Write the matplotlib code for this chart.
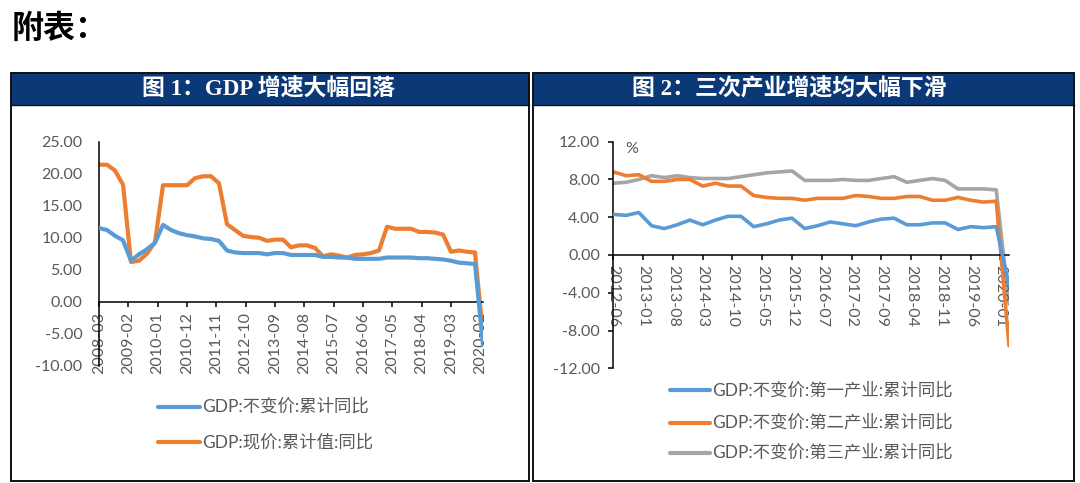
import matplotlib
matplotlib.use("Agg")
import matplotlib.pyplot as plt
from matplotlib.patches import Rectangle
from matplotlib.lines import Line2D
import pandas as pd

plt.rcParams['font.family'] = ['Lato', 'Noto Sans CJK SC', 'DejaVu Sans']

# ---------------- data ----------------
page_title = "附表："
title1 = "图 1：GDP 增速大幅回落"
title2 = "图 2：三次产业增速均大幅下滑"

# Chart 1: quarterly, 2008Q1 .. 2020Q1
dates1 = [d.strftime('%Y-%m') for d in pd.date_range('2008-03-31', '2020-03-31', freq='QE')]
gdp_real = [11.5, 11.2, 10.3, 9.6,
            6.4, 7.4, 8.2, 9.2,
            12.0, 11.2, 10.7, 10.4,
            10.2, 9.9, 9.8, 9.5,
            8.0, 7.7, 7.6, 7.6,
            7.6, 7.4, 7.6, 7.6,
            7.3, 7.3, 7.3, 7.3,
            7.0, 7.0, 6.9, 6.9,
            6.7, 6.7, 6.7, 6.7,
            6.9, 6.9, 6.9, 6.9,
            6.8, 6.8, 6.7, 6.6,
            6.4, 6.1, 6.0, 5.9,
            -6.8]
gdp_nominal = [21.4, 21.4, 20.5, 18.3,
               6.2, 6.4, 7.5, 9.3,
               18.2, 18.2, 18.2, 18.2,
               19.3, 19.6, 19.6, 18.5,
               12.1, 11.2, 10.3, 10.1,
               10.0, 9.5, 9.7, 9.7,
               8.5, 8.8, 8.8, 8.4,
               7.1, 7.4, 7.2, 6.9,
               7.3, 7.4, 7.6, 8.0,
               11.7, 11.4, 11.4, 11.4,
               10.9, 10.9, 10.8, 10.5,
               7.8, 8.0, 7.8, 7.7,
               -5.3]
labels1 = ["GDP:不变价:累计同比", "GDP:现价:累计值:同比"]
xticks1 = ["2008-03", "2009-02", "2010-01", "2010-12", "2011-11", "2012-10", "2013-09",
           "2014-08", "2015-07", "2016-06", "2017-05", "2018-04", "2019-03", "2020-02"]
yticks1 = [-10, -5, 0, 5, 10, 15, 20, 25]

# Chart 2: quarterly, 2012Q2 .. 2020Q1
dates2 = [d.strftime('%Y-%m') for d in pd.date_range('2012-06-30', '2020-03-31', freq='QE')]
primary = [4.3, 4.2, 4.5, 3.1, 2.8, 3.2, 3.7, 3.2, 3.7, 4.1, 4.1, 3.0, 3.3, 3.7, 3.9, 2.8,
           3.1, 3.5, 3.3, 3.1, 3.5, 3.8, 3.9, 3.2, 3.2, 3.4, 3.4, 2.7, 3.0, 2.9, 3.0, -3.2]
secondary = [8.8, 8.4, 8.5, 7.8, 7.8, 8.0, 8.0, 7.3, 7.6, 7.3, 7.3, 6.3, 6.1, 6.0, 6.0, 5.8,
             6.0, 6.0, 6.0, 6.3, 6.2, 6.0, 6.0, 6.2, 6.2, 5.8, 5.8, 6.1, 5.8, 5.6, 5.7, -9.6]
tertiary = [7.6, 7.7, 8.0, 8.4, 8.2, 8.4, 8.2, 8.1, 8.1, 8.1, 8.3, 8.5, 8.7, 8.8, 8.9, 7.9,
            7.9, 7.9, 8.0, 7.9, 7.9, 8.1, 8.3, 7.7, 7.9, 8.1, 7.9, 7.0, 7.0, 7.0, 6.9, -5.2]
labels2 = ["GDP:不变价:第一产业:累计同比", "GDP:不变价:第二产业:累计同比", "GDP:不变价:第三产业:累计同比"]
xticks2 = ["2012-06", "2013-01", "2013-08", "2014-03", "2014-10", "2015-05", "2015-12",
           "2016-07", "2017-02", "2017-09", "2018-04", "2018-11", "2019-06", "2020-01"]
yticks2 = [-12, -8, -4, 0, 4, 8, 12]
unit2 = "%"

# ---------------- styling ----------------
BLUE, ORANGE, GRAY = '#5B9BD5', '#ED7D31', '#A5A5A5'
TXT = '#595959'
NAVY = '#0B3978'
W, H = 1080, 483


def months_from(base, s):
    by, bm = int(base[:4]), int(base[5:7])
    y, m = int(s[:4]), int(s[5:7])
    return (y - by) * 12 + (m - bm)


def fx(px):
    return px / W


def fy(py):
    return 1 - py / H


fig = plt.figure(figsize=(W / 100, H / 100), dpi=100)
fig.patch.set_facecolor('white')

fig.text(fx(12), fy(29), page_title, fontsize=23, fontweight='bold', color='black',
         ha='left', va='center', family=['Noto Sans CJK SC'])

# panels
for (x0, x1, title, cx) in [(11, 529, title1, 268), (533, 1074, title2, 789)]:
    fig.add_artist(Rectangle((fx(x0), fy(105)), fx(x1) - fx(x0), fy(73) - fy(105),
                             transform=fig.transFigure, facecolor=NAVY, edgecolor='none'))
    fig.add_artist(Rectangle((fx(x0), fy(481)), fx(x1) - fx(x0), fy(73) - fy(481),
                             transform=fig.transFigure, facecolor='none', edgecolor='#111111',
                             linewidth=1.4))
    fig.add_artist(Line2D([fx(x0), fx(x1)], [fy(105), fy(105)], transform=fig.transFigure,
                          color='#111111', linewidth=1.0))
    fig.text(fx(cx), fy(89), title, fontsize=16.5, fontweight='bold', color='white',
             ha='center', va='center', family=['Liberation Serif', 'Noto Sans CJK SC'])


def style_axes(ax, ylabel_pad, ytick_len, xrot):
    for s in ['top', 'right']:
        ax.spines[s].set_visible(False)
    ax.spines['bottom'].set_position(('data', 0))
    ax.spines['left'].set_color('black')
    ax.spines['bottom'].set_color('black')
    ax.spines['left'].set_linewidth(1.1)
    ax.spines['bottom'].set_linewidth(1.1)
    ax.set_facecolor('none')
    ax.tick_params(axis='y', length=ytick_len, width=1.1, pad=ylabel_pad, labelsize=11.5,
                   labelcolor=TXT, color='black')
    ax.tick_params(axis='x', length=3.5, width=1.1, pad=4, labelsize=11.5,
                   labelcolor=TXT, color='black', direction='out', labelrotation=xrot)


# chart 1
ax1 = fig.add_axes([fx(99), fy(365.7), fx(483) - fx(99), fy(141.7) - fy(365.7)])
x1 = [months_from(dates1[0], d) for d in dates1]
ax1.plot(x1, gdp_real, color=BLUE, lw=3, solid_joinstyle='round', solid_capstyle='round', zorder=3)
ax1.plot(x1, gdp_nominal, color=ORANGE, lw=3, solid_joinstyle='round', solid_capstyle='round', zorder=2)
ax1.set_xlim(0, 144)
ax1.set_ylim(-10, 25)
ax1.set_yticks(yticks1)
ax1.set_yticklabels([f"{v:.2f}" for v in yticks1])
ax1.set_xticks([months_from(dates1[0], s) for s in xticks1])
ax1.set_xticklabels(xticks1)
style_axes(ax1, 12, 0, 90)

# chart 2
ax2 = fig.add_axes([fx(613.3), fy(368.3), fx(1009) - fx(613.3), fy(141.7) - fy(368.3)])
x2 = [months_from(dates2[0], d) for d in dates2]
for vals, c, z in [(primary, BLUE, 3), (secondary, ORANGE, 2), (tertiary, GRAY, 1)]:
    ax2.plot(x2, vals, color=c, lw=2.6, solid_joinstyle='round', solid_capstyle='round', zorder=z)
ax2.set_xlim(0, 93)
ax2.set_ylim(-12, 12)
ax2.set_yticks(yticks2)
ax2.set_yticklabels([f"{v:.2f}" for v in yticks2])
ax2.set_xticks([months_from(dates2[0], s) for s in xticks2])
ax2.set_xticklabels(xticks2)
style_axes(ax2, 6, 3.5, 270)
fig.text(fx(632), fy(149), unit2, fontsize=11.5, color=TXT, ha='center', va='center')

# legends
for (lx0, lx1, tx, ys, labs, cols) in [
        (158, 200, 202, [406.7, 441.7], labels1, [BLUE, ORANGE]),
        (670, 710, 712, [390, 422.7, 452.7], labels2, [BLUE, ORANGE, GRAY])]:
    for y, lab, c in zip(ys, labs, cols):
        fig.add_artist(Line2D([fx(lx0), fx(lx1)], [fy(y), fy(y)], transform=fig.transFigure,
                              color=c, lw=3, solid_capstyle='round'))
        fig.text(fx(tx), fy(y), lab, fontsize=12.5, color=TXT, ha='left', va='center')

fig.savefig('out.png', dpi=100)
